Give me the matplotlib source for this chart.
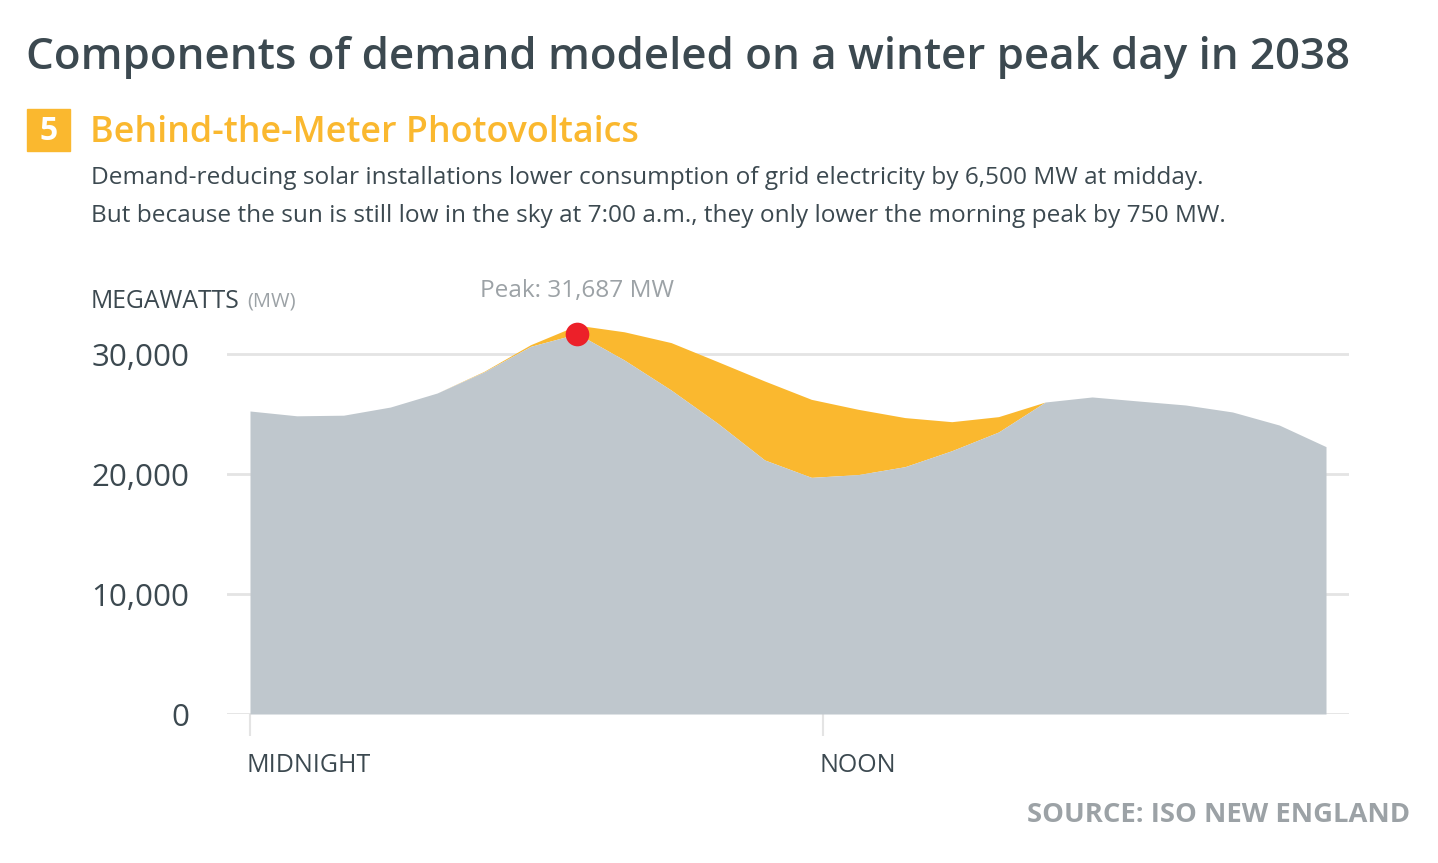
"""
Winter peak day 2038: net demand vs. behind-the-meter PV reduction.
"""

import matplotlib
matplotlib.use("Agg")
import matplotlib.pyplot as plt

# ── Data (MW, hourly from midnight) ─────────────────────────────
hours = list(range(24))
net_demand = [25250, 24850, 24900, 25580, 26750, 28500, 30640, 31687,
              29500, 27000, 24220, 21170, 19720, 19950, 20610, 21940,
              23500, 26000, 26420, 26080, 25750, 25170, 24080, 22280]
gross_demand = [25250, 24850, 24900, 25580, 26750, 28550, 30780, 32400,
                31850, 30950, 29360, 27750, 26220, 25390, 24700, 24360,
                24780, 26000, 26420, 26080, 25750, 25170, 24080, 22280]
peak_hour = 7
peak_value = 31687
y_ticks = [0, 10000, 20000, 30000]
x_ticks = [0, 12.25]
x_labels = ["MIDNIGHT", "NOON"]

GRAY = "#BFC7CD"
ORANGE = "#FAB82F"
RED = "#EC2029"
DARK = "#3C4950"
MUTED = "#9CA2A6"
GRID = "#E4E4E4"

plt.rcParams["font.family"] = ["Open Sans", "DejaVu Sans"]

W, H = 1438, 863
fig = plt.figure(figsize=(W / 100, H / 100), dpi=100)


def fx(x):
    return x / W


def fy(y):
    return 1 - y / H


# plot area: x -0.5..23.5 -> 226.6..1349.4 px, y 0..33000 -> 714..318 px
ax = fig.add_axes([fx(226.6), fy(714), (1349.4 - 226.6) / W, (714 - 318) / H])
ax.set_xlim(-0.5, 23.5)
ax.set_ylim(0, 33000)

for v in y_ticks:
    ax.axhline(v, color=GRID, lw=2, zorder=0)

ax.fill_between(hours, 0, net_demand, color=GRAY, lw=0, zorder=3)
ax.fill_between(hours, net_demand, gross_demand, color=ORANGE, lw=0, zorder=2)
ax.scatter([peak_hour], [peak_value], s=290, color=RED, lw=0, zorder=5,
           clip_on=False)
ax.annotate(f"Peak: {peak_value:,} MW", xy=(peak_hour, peak_value),
            xytext=(0, 31), textcoords="offset points", ha="center",
            va="center", fontsize=17.6, color=MUTED)

for s in ax.spines.values():
    s.set_visible(False)

ax.set_yticks(y_ticks)
ax.set_yticklabels([f"{v:,}" for v in y_ticks], fontsize=22.5, color=DARK)
ax.tick_params(axis="y", length=0, pad=27)

ax.set_xticks(x_ticks)
ax.set_xticklabels([])
ax.tick_params(axis="x", length=16, width=1.5, color=GRID)
for xt, lab in zip(x_ticks, x_labels):
    ax.annotate(lab, xy=(xt, 0), xycoords=("data", "axes fraction"),
                xytext=(-3.5, -51), textcoords="offset pixels",
                ha="left", va="center", fontsize=18, color=DARK)

# ── Headings ────────────────────────────────────────────────────
fig.text(fx(26), fy(57), "Components of demand modeled on a winter peak day in 2038",
         fontsize=31.6, fontweight="semibold", color=DARK, va="center")

fig.patches.append(plt.Rectangle((fx(27), fy(151)), 43 / W, 42 / H,
                                 transform=fig.transFigure, color=ORANGE))
fig.text(fx(48.5), fy(131), "5", fontsize=23, fontweight="bold",
         color="white", ha="center", va="center")
fig.text(fx(90), fy(133), "Behind-the-Meter Photovoltaics", fontsize=25.8,
         fontweight="semibold", color=ORANGE, va="center")

desc_lines = [
    "Demand-reducing solar installations lower consumption of grid "
    "electricity by 6,500 MW at midday.",
    "But because the sun is still low in the sky at 7:00 a.m., they only "
    "lower the morning peak by 750 MW.",
]
for i, line in enumerate(desc_lines):
    fig.text(fx(91), fy(178 + 38 * i), line, fontsize=17.6, color=DARK,
             va="center")

fig.text(fx(91), fy(301), "MEGAWATTS", fontsize=17.8, color=DARK,
         va="center")
fig.text(fx(247), fy(302), "(MW)", fontsize=14.5, color=MUTED, va="center")

fig.text(fx(1410), fy(815), "SOURCE: ISO NEW ENGLAND", fontsize=19.7,
         fontweight="bold", color=MUTED, ha="right", va="center")

fig.savefig("out.png", dpi=100, facecolor="white")
